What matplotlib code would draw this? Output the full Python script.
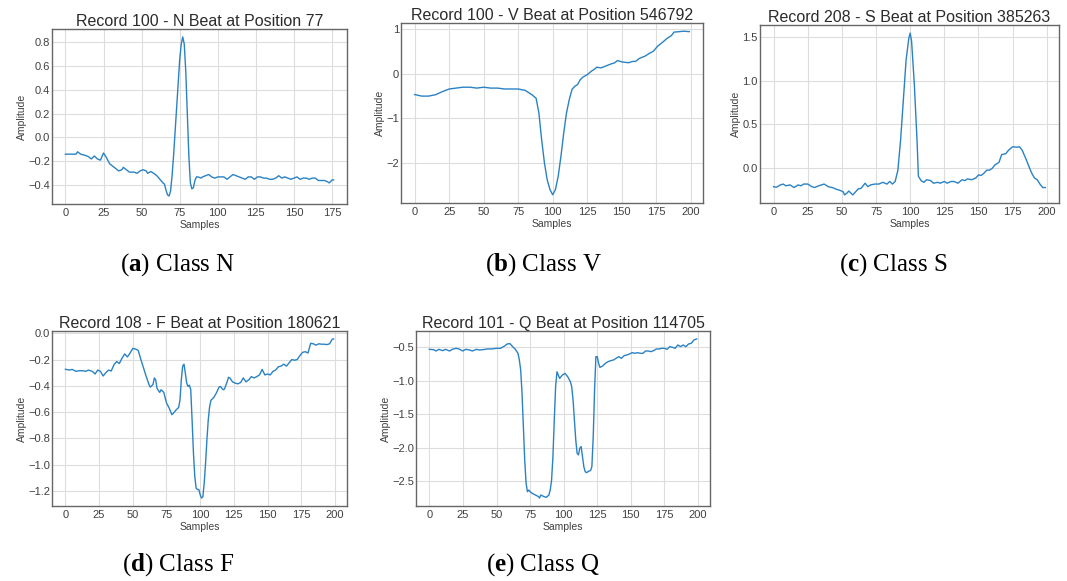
import matplotlib.pyplot as plt

# -------------------------
# DATA
# -------------------------
n_x = [0, 3, 7, 8, 10, 13, 15, 17, 19, 21, 23, 25, 27, 29, 31, 33, 35, 37, 38, 40, 42, 45, 47, 49,
       51, 53, 54, 56, 58, 60, 62, 64, 65, 66, 67, 68, 69, 70, 71, 72, 73, 74, 75, 76, 77, 78, 79,
       80, 81, 82, 83, 84, 85, 86, 87, 89, 90, 92, 94, 96, 98, 100, 102, 104, 106, 108, 110, 112,
       114, 116, 118, 120, 122, 124, 126, 128, 130, 132, 134, 136, 138, 140, 142, 144, 146, 148,
       150, 152, 154, 156, 158, 160, 162, 164, 166, 168, 170, 172, 173, 174, 175, 176]
n_y = [-0.14, -0.14, -0.14, -0.12, -0.14, -0.15, -0.16, -0.18, -0.155, -0.18, -0.19, -0.13, -0.17,
       -0.22, -0.24, -0.26, -0.28, -0.27, -0.25, -0.27, -0.29, -0.29, -0.30, -0.28, -0.27, -0.28,
       -0.30, -0.285, -0.30, -0.32, -0.35, -0.38, -0.39, -0.44, -0.48, -0.49, -0.45, -0.32, -0.15,
       0.05, 0.25, 0.45, 0.65, 0.78, 0.84, 0.78, 0.55, 0.20, -0.15, -0.38, -0.43, -0.42, -0.36,
       -0.33, -0.33, -0.34, -0.33, -0.32, -0.31, -0.33, -0.34, -0.33, -0.33, -0.33, -0.35, -0.33,
       -0.31, -0.32, -0.33, -0.34, -0.35, -0.33, -0.33, -0.35, -0.33, -0.33, -0.34, -0.34, -0.35,
       -0.35, -0.34, -0.32, -0.34, -0.33, -0.34, -0.35, -0.34, -0.33, -0.35, -0.34, -0.34, -0.35,
       -0.34, -0.34, -0.36, -0.36, -0.36, -0.37, -0.38, -0.37, -0.355, -0.355]

v_x = [0, 5, 10, 15, 20, 25, 30, 35, 40, 45, 50, 55, 60, 65, 70, 75, 80, 85, 88, 90, 92, 94, 96,
       98, 100, 102, 104, 106, 108, 110, 112, 114, 116, 118, 120, 122, 125, 128, 130, 132, 135,
       138, 142, 145, 147, 150, 155, 158, 160, 163, 167, 170, 173, 176, 180, 183, 186, 188, 192,
       195, 199]
v_y = [-0.465, -0.50, -0.50, -0.47, -0.40, -0.34, -0.32, -0.30, -0.30, -0.32, -0.30, -0.32, -0.32,
       -0.34, -0.34, -0.34, -0.37, -0.47, -0.55, -0.88, -1.48, -2.00, -2.38, -2.60, -2.72, -2.60,
       -2.30, -1.85, -1.33, -0.88, -0.58, -0.35, -0.28, -0.24, -0.13, -0.07, -0.02, 0.06, 0.10,
       0.15, 0.135, 0.17, 0.22, 0.25, 0.30, 0.27, 0.25, 0.28, 0.28, 0.35, 0.40, 0.46, 0.51, 0.62,
       0.72, 0.80, 0.86, 0.94, 0.95, 0.96, 0.95]

s_x = [0, 2, 5, 7, 9, 12, 15, 18, 20, 22, 25, 28, 30, 33, 35, 37, 40, 43, 46, 49, 51, 52, 54, 55,
       57, 58, 60, 62, 64, 67, 69, 71, 74, 77, 80, 83, 85, 87, 89, 91, 93, 95, 97, 99, 100, 101,
       103, 105, 106, 108, 110, 112, 115, 117, 120, 122, 125, 127, 130, 132, 135, 138, 140, 142,
       145, 148, 150, 152, 154, 156, 158, 160, 162, 165, 167, 170, 172, 175, 178, 180, 182, 185,
       187, 189, 191, 193, 195, 197, 199]
s_y = [-0.22, -0.227, -0.20, -0.19, -0.21, -0.20, -0.23, -0.20, -0.21, -0.19, -0.19, -0.22, -0.23,
       -0.21, -0.20, -0.19, -0.22, -0.23, -0.25, -0.265, -0.28, -0.315, -0.29, -0.27, -0.30,
       -0.315, -0.28, -0.245, -0.24, -0.18, -0.22, -0.20, -0.19, -0.19, -0.17, -0.19, -0.16,
       -0.19, -0.16, -0.03, 0.32, 0.78, 1.24, 1.49, 1.55, 1.46, 0.97, 0.32, -0.10, -0.15, -0.17,
       -0.14, -0.15, -0.18, -0.17, -0.18, -0.16, -0.18, -0.16, -0.16, -0.18, -0.14, -0.15, -0.13,
       -0.14, -0.12, -0.085, -0.09, -0.065, -0.03, -0.03, -0.01, 0.03, 0.06, 0.15, 0.16, 0.20,
       0.24, 0.235, 0.24, 0.20, 0.09, 0.01, -0.065, -0.12, -0.14, -0.19, -0.23, -0.23]

f_x = [0, 3, 5, 8, 10, 13, 15, 17, 20, 22, 24, 26, 28, 30, 32, 34, 36, 38, 40, 42, 44, 46, 48, 50,
       52, 54, 56, 58, 60, 62, 63, 65, 66, 67, 68, 70, 71, 73, 75, 77, 79, 80, 82, 84, 85, 86, 87,
       88, 89, 90, 91, 92, 93, 94, 95, 96, 97, 98, 99, 100, 101, 102, 103, 104, 105, 106, 107,
       108, 110, 112, 114, 115, 117, 118, 120, 121, 122, 124, 126, 128, 130, 132, 134, 136, 138,
       140, 142, 144, 146, 148, 150, 152, 154, 156, 158, 160, 162, 164, 166, 168, 170, 172, 174,
       176, 178, 180, 182, 184, 186, 188, 190, 192, 194, 196, 198, 199]
f_y = [-0.274, -0.28, -0.275, -0.29, -0.285, -0.285, -0.29, -0.28, -0.29, -0.31, -0.28, -0.29,
       -0.325, -0.30, -0.28, -0.287, -0.24, -0.215, -0.23, -0.19, -0.157, -0.18, -0.15, -0.115,
       -0.12, -0.13, -0.20, -0.265, -0.33, -0.39, -0.41, -0.39, -0.34, -0.355, -0.42, -0.45,
       -0.43, -0.45, -0.53, -0.57, -0.62, -0.61, -0.585, -0.565, -0.51, -0.355, -0.25, -0.235,
       -0.305, -0.38, -0.405, -0.395, -0.43, -0.66, -0.91, -1.09, -1.18, -1.19, -1.19, -1.23,
       -1.255, -1.245, -1.14, -0.99, -0.81, -0.66, -0.56, -0.51, -0.49, -0.455, -0.41, -0.405,
       -0.43, -0.425, -0.37, -0.335, -0.34, -0.37, -0.38, -0.385, -0.375, -0.34, -0.37, -0.355,
       -0.33, -0.34, -0.33, -0.317, -0.275, -0.317, -0.31, -0.317, -0.29, -0.28, -0.255, -0.25,
       -0.235, -0.25, -0.225, -0.20, -0.205, -0.20, -0.17, -0.145, -0.14, -0.15, -0.076, -0.08,
       -0.09, -0.08, -0.083, -0.083, -0.086, -0.08, -0.045, -0.043]

q_x = [0, 3, 5, 7, 10, 12, 15, 17, 20, 22, 25, 27, 30, 32, 35, 37, 40, 43, 46, 50, 53, 56, 58, 60,
       62, 64, 66, 67, 68, 69, 70, 71, 72, 73, 74, 75, 77, 79, 81, 82, 83, 85, 87, 89, 90, 91, 92,
       93, 94, 95, 96, 97, 99, 101, 103, 105, 106, 107, 108, 109, 110, 111, 112, 113, 114, 115,
       116, 117, 119, 120, 121, 122, 123, 124, 125, 126, 127, 129, 131, 133, 135, 137, 139, 141,
       143, 145, 147, 149, 151, 153, 155, 157, 159, 161, 163, 165, 167, 169, 171, 173, 175, 177,
       179, 181, 183, 185, 187, 189, 191, 193, 195, 197, 199]
q_y = [-0.53, -0.535, -0.555, -0.53, -0.55, -0.53, -0.555, -0.53, -0.515, -0.525, -0.555, -0.53,
       -0.54, -0.555, -0.53, -0.54, -0.535, -0.525, -0.525, -0.515, -0.515, -0.48, -0.45, -0.445,
       -0.49, -0.53, -0.59, -0.69, -0.84, -1.19, -1.69, -2.19, -2.53, -2.66, -2.635, -2.66, -2.69,
       -2.71, -2.73, -2.755, -2.71, -2.73, -2.745, -2.71, -2.635, -2.485, -2.135, -1.59, -1.09,
       -0.865, -0.915, -0.965, -0.915, -0.89, -0.94, -1.015, -1.09, -1.29, -1.59, -1.885, -2.085,
       -2.11, -2.01, -1.985, -2.135, -2.285, -2.36, -2.375, -2.35, -2.345, -2.285, -1.84, -1.14,
       -0.64, -0.64, -0.74, -0.80, -0.78, -0.74, -0.715, -0.70, -0.69, -0.665, -0.64, -0.665,
       -0.625, -0.615, -0.60, -0.58, -0.59, -0.58, -0.59, -0.59, -0.555, -0.555, -0.565, -0.55,
       -0.525, -0.525, -0.515, -0.515, -0.53, -0.49, -0.50, -0.515, -0.465, -0.49, -0.465, -0.49,
       -0.45, -0.44, -0.39, -0.375]

titles = ['Record 100 - N Beat at Position 77',
          'Record 100 - V Beat at Position 546792',
          'Record 208 - S Beat at Position 385263',
          'Record 108 - F Beat at Position 180621',
          'Record 101 - Q Beat at Position 114705']
captions = [r'($\mathbf{a}$) Class N', r'($\mathbf{b}$) Class V', r'($\mathbf{c}$) Class S',
            r'($\mathbf{d}$) Class F', r'($\mathbf{e}$) Class Q']
yticks = [[-0.4, -0.2, 0.0, 0.2, 0.4, 0.6, 0.8],
          [-2, -1, 0, 1],
          [0.0, 0.5, 1.0, 1.5],
          [-1.2, -1.0, -0.8, -0.6, -0.4, -0.2, 0.0],
          [-2.5, -2.0, -1.5, -1.0, -0.5]]
series = [(n_x, n_y), (v_x, v_y), (s_x, s_y), (f_x, f_y), (q_x, q_y)]

# -------------------------
# LAYOUT (pixel boxes: left, right, top, bottom) and caption centres
# -------------------------
W, H = 1067, 581
boxes = [(52, 347, 29, 204), (401, 703, 23, 203), (760, 1059, 25, 203),
         (52, 347, 331, 506), (416, 710, 331, 506)]
cap_pos = [(178, 265), (544, 265), (893, 265), (178, 565), (543, 565)]

plt.rcParams['font.family'] = ['Liberation Sans', 'DejaVu Sans']
plt.rcParams['mathtext.fontset'] = 'custom'
plt.rcParams['mathtext.rm'] = 'Liberation Serif'
plt.rcParams['mathtext.bf'] = 'Liberation Serif:bold'

fig = plt.figure(figsize=(W / 100, H / 100), dpi=100)

for (xs, ys), title, yt, (l, r, t, b) in zip(series, titles, yticks, boxes):
    ax = fig.add_axes([l / W, 1 - b / H, (r - l) / W, (b - t) / H])
    ax.plot(xs, ys, color='#2a82c4', lw=1.0)
    ax.set_title(title, fontsize=11.5, color='#2b2b2b', pad=2)
    ax.set_xlabel('Samples', fontsize=7.5, color='#404040', labelpad=1.5)
    ax.set_ylabel('Amplitude', fontsize=7.5, color='#404040', labelpad=1)
    ax.set_xticks([0, 25, 50, 75, 100, 125, 150, 175, 200] if max(xs) > 180 else
                  [0, 25, 50, 75, 100, 125, 150, 175])
    ax.set_yticks(yt)
    ax.tick_params(labelsize=8, labelcolor='#404040', length=0, pad=1.5)
    ax.tick_params(axis='x', pad=3)
    ax.grid(True, color='#dddddd', lw=0.8)
    ax.set_axisbelow(True)
    for sp in ax.spines.values():
        sp.set_color('#666666')
        sp.set_linewidth(1.0)

for txt, (cx, cy) in zip(captions, cap_pos):
    fig.text(cx / W, 1 - cy / H, txt, ha='center', va='center', fontsize=18,
             family='Liberation Serif', color='black')

fig.savefig('out.png', dpi=100)
